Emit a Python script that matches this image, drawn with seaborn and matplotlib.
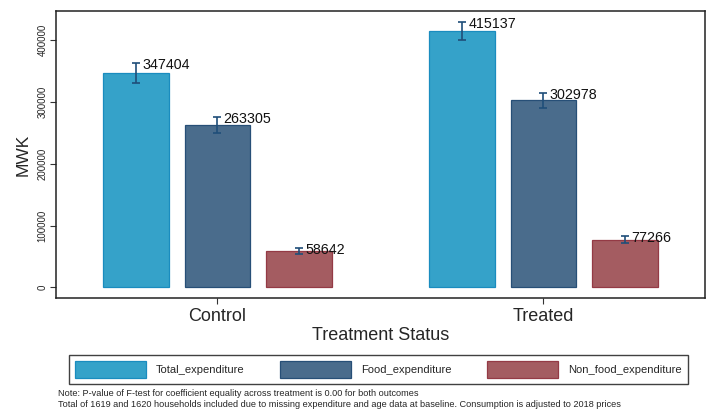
import matplotlib
matplotlib.use("Agg")
import matplotlib.pyplot as plt
from matplotlib.patches import Patch
import seaborn as sns
import pandas as pd

# Mean household expenditure (MWK) by treatment status, with 95% CI bounds
statuses = ["Control", "Treated"]
categories = ["Total_expenditure", "Food_expenditure", "Non_food_expenditure"]
control_means = [347404, 263305, 58642]
treated_means = [415137, 302978, 77266]
control_lower = [331300, 250200, 53200]
control_upper = [363600, 276400, 64100]
treated_lower = [400100, 290800, 71200]
treated_upper = [430200, 315100, 83300]
y_ticks = [0, 100000, 200000, 300000, 400000]

fill_colors = ["#35a2c9", "#4a6c8c", "#a45c61"]
edge_colors = ["#1a8cbf", "#274f77", "#943a45"]
ci_color = "#1f4e79"

rows = []
for status, means, lo, hi in [("Control", control_means, control_lower, control_upper),
                              ("Treated", treated_means, treated_lower, treated_upper)]:
    for cat, m, l, h in zip(categories, means, lo, hi):
        rows.append({"status": status, "category": cat, "mean": m, "lower": l, "upper": h})
df = pd.DataFrame(rows)

sns.set_theme(style="white")
plt.rcParams["font.family"] = ["Liberation Sans", "DejaVu Sans"]

fig = plt.figure(figsize=(7.07, 4.09), dpi=100)
ax = fig.add_axes([0.0792, 0.2714, 0.9178, 0.7016])

sns.barplot(data=df, x="status", y="mean", hue="category", order=statuses,
            hue_order=categories, palette=fill_colors, width=0.75, gap=0.196,
            errorbar=None, legend=False, ax=ax, saturation=1)

# Give each bar its darker outline, then add CI whiskers and value labels
for patch in ax.patches:
    h = patch.get_height()
    match = df[df["mean"] == h]
    if match.empty:
        continue
    row = match.iloc[0]
    idx = categories.index(row["category"])
    patch.set_edgecolor(edge_colors[idx])
    patch.set_linewidth(0.9)
    cx = patch.get_x() + patch.get_width() / 2
    ax.errorbar(cx, row["mean"],
                yerr=[[row["mean"] - row["lower"]], [row["upper"] - row["mean"]]],
                fmt="none", ecolor=ci_color, elinewidth=1.2, capsize=3, capthick=1.2,
                zorder=5)
    ax.annotate(f"{int(row['mean'])}", xy=(cx, row["upper"]), xytext=(4.5, -1.5),
                textcoords="offset points", ha="left", va="center",
                fontsize=10.3, color="#111111")

ax.set_xlim(-0.495, 1.495)
ax.set_ylim(-17300, 447400)
ax.set_yticks(y_ticks)
ax.set_yticklabels([str(t) for t in y_ticks], rotation=90, va="center", fontsize=7)
ax.tick_params(axis="y", length=4, width=0.8, pad=2, color="#333333", left=True)
ax.tick_params(axis="x", length=4, width=0.8, pad=3, labelsize=13, color="#333333",
               bottom=True)
ax.set_xlabel("Treatment Status", fontsize=13, labelpad=2)
ax.set_ylabel("MWK", fontsize=12.5, labelpad=5)

for side in ["left", "right", "top", "bottom"]:
    ax.spines[side].set_visible(True)
    ax.spines[side].set_color("#222222")
    ax.spines[side].set_linewidth(1.1)

handles = [Patch(facecolor=f, edgecolor=e, linewidth=0.9) for f, e in zip(fill_colors, edge_colors)]
leg = fig.legend(handles, categories, loc="lower left",
                 bbox_to_anchor=(0.0976, 0.061, 0.875, 0.078), mode="expand",
                 ncol=3, fontsize=8, handlelength=6.4, handleheight=2.0,
                 handletextpad=0.9, borderpad=0.55, borderaxespad=0,
                 fancybox=False, frameon=True)
leg.get_frame().set_edgecolor("#111111")
leg.get_frame().set_linewidth(1.0)

fig.text(0.082, 0.038, "Note: P-value of F-test for coefficient equality across treatment is 0.00 for both outcomes",
         fontsize=6.6, va="center", ha="left")
fig.text(0.082, 0.012, "Total of 1619 and 1620 households included due to missing expenditure and age data at baseline. Consumption is adjusted to 2018 prices",
         fontsize=6.6, va="center", ha="left")

fig.savefig("out.png", dpi=100)
